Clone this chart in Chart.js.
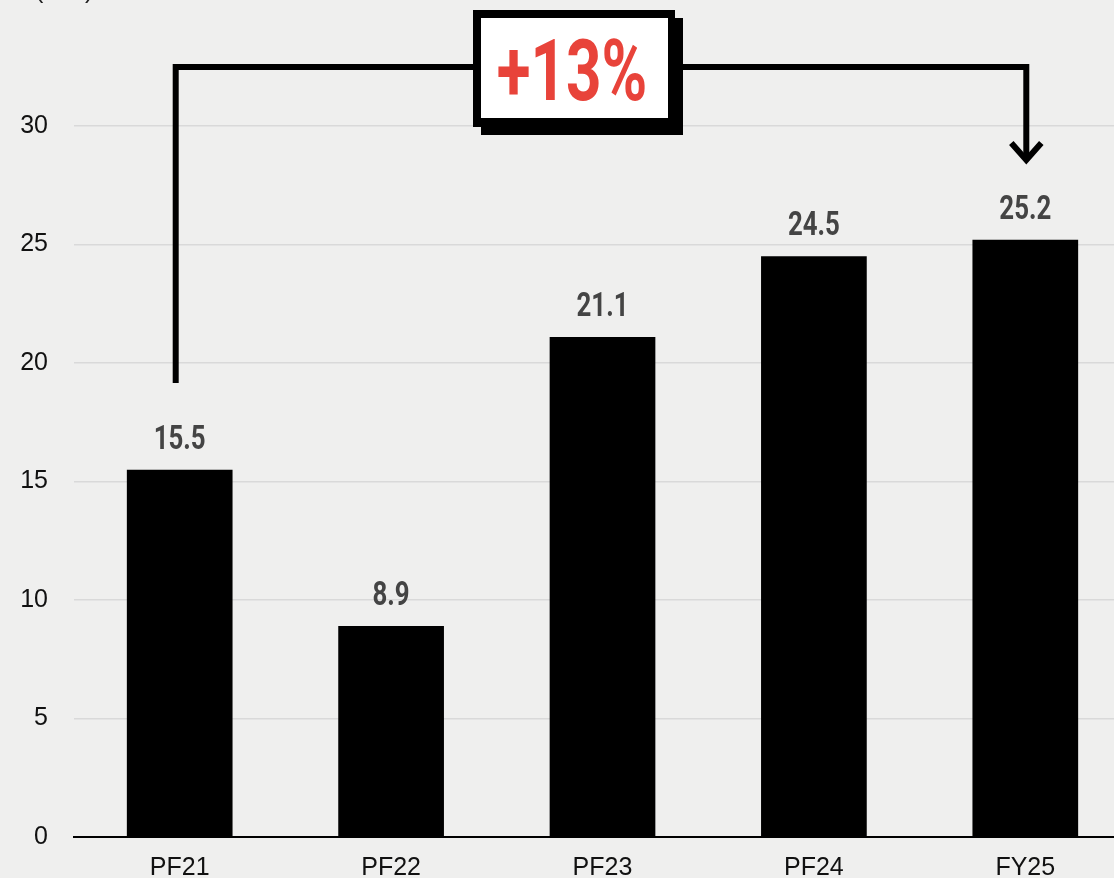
<!DOCTYPE html>
<html>
<head>
<meta charset="utf-8">
<script src="https://cdn.jsdelivr.net/npm/chart.js@4.4.1/dist/chart.umd.min.js"></script>
<style>
  html, body { margin: 0; padding: 0; width: 1114px; height: 878px; overflow: hidden; background: #efefee; }
  #wrap { position: absolute; left: 0; top: -30px; }
</style>
</head>
<body>
<div id="wrap"><canvas id="chart" width="1140" height="910"></canvas></div>
<script>
const categories = ['PF21', 'PF22', 'PF23', 'PF24', 'FY25'];
const values = [15.5, 8.9, 21.1, 24.5, 25.2];
const yTicks = [0, 5, 10, 15, 20, 25, 30];
const growthLabel = '+13%';
const unitLabel = '($bn)';

const OFF = 30; // canvas is shifted up by this much

// value labels above the bars, condensed bold
const valueLabels = {
    id: 'valueLabels',
    afterDatasetsDraw(chart) {
        const ctx = chart.ctx;
        const meta = chart.getDatasetMeta(0);
        ctx.save();
        ctx.fillStyle = '#444';
        ctx.font = 'bold 34px Roboto';
        ctx.textAlign = 'center';
        ctx.textBaseline = 'alphabetic';
        meta.data.forEach((bar, i) => {
            ctx.save();
            ctx.translate(bar.x, bar.y - 21);
            ctx.scale(0.76, 1);
            ctx.fillText(values[i].toFixed(1), 0, 0);
            ctx.restore();
        });
        ctx.restore();
    }
};

// bracket, arrow and growth box
const growthBracket = {
    id: 'growthBracket',
    afterDraw(chart) {
        const ctx = chart.ctx;
        const meta = chart.getDatasetMeta(0);
        const x0 = meta.data[0].x - 4;
        const x1 = meta.data[meta.data.length - 1].x + 1;
        const top = 67 + OFF;
        ctx.save();
        ctx.strokeStyle = '#000';
        ctx.lineWidth = 6;
        ctx.lineJoin = 'miter';
        ctx.beginPath();
        ctx.moveTo(x0, 383 + OFF);
        ctx.lineTo(x0, top);
        ctx.lineTo(x1, top);
        ctx.lineTo(x1, 158 + OFF);
        ctx.stroke();
        // arrow head
        ctx.beginPath();
        ctx.moveTo(x1 - 15, 143 + OFF);
        ctx.lineTo(x1, 160 + OFF);
        ctx.lineTo(x1 + 15, 143 + OFF);
        ctx.stroke();

        // box with shadow
        ctx.fillStyle = '#000';
        ctx.fillRect(481, 18 + OFF, 202, 117);
        ctx.fillRect(473, 10 + OFF, 202, 117);
        ctx.fillStyle = '#fff';
        ctx.fillRect(481, 18 + OFF, 187, 100);

        ctx.fillStyle = '#e8433a';
        ctx.font = 'bold 86px Roboto';
        ctx.textAlign = 'center';
        ctx.textBaseline = 'alphabetic';
        ctx.translate(572, 100 + OFF);
        ctx.scale(0.72, 1);
        ctx.fillText(growthLabel, 0, 0);
        ctx.restore();

        // unit label at top left (mostly cut off)
        ctx.save();
        ctx.fillStyle = '#222';
        ctx.font = '25px "Liberation Sans"';
        ctx.textAlign = 'left';
        ctx.textBaseline = 'alphabetic';
        ctx.fillText(unitLabel, 35, OFF - 2);
        ctx.restore();
    }
};

const ctx = document.getElementById('chart').getContext('2d');
new Chart(ctx, {
    type: 'bar',
    data: {
        labels: categories,
        datasets: [{
            data: values,
            backgroundColor: '#000',
            borderWidth: 0,
            categoryPercentage: 1,
            barPercentage: 0.5
        }]
    },
    options: {
        responsive: false,
        animation: false,
        layout: { padding: { top: 156, right: 9, left: 0, bottom: 0 } },
        plugins: {
            legend: { display: false },
            tooltip: { enabled: false }
        },
        scales: {
            x: {
                afterFit: s => { s.height = 43; },
                grid: { display: false, drawTicks: false },
                border: { color: '#000', width: 2 },
                ticks: {
                    color: '#111',
                    font: { family: 'Liberation Sans', size: 25 },
                    padding: 16
                }
            },
            y: {
                min: 0,
                max: 30,
                afterBuildTicks: s => { s.ticks = yTicks.map(v => ({ value: v })); },
                afterFit: s => { s.width = 74; },
                grid: { color: '#d9d9d9', lineWidth: 1.5, drawTicks: false },
                border: { display: false },
                ticks: {
                    color: '#111',
                    font: { family: 'Liberation Sans', size: 25 },
                    padding: 26
                }
            }
        }
    },
    plugins: [valueLabels, growthBracket]
});
</script>
</body>
</html>
